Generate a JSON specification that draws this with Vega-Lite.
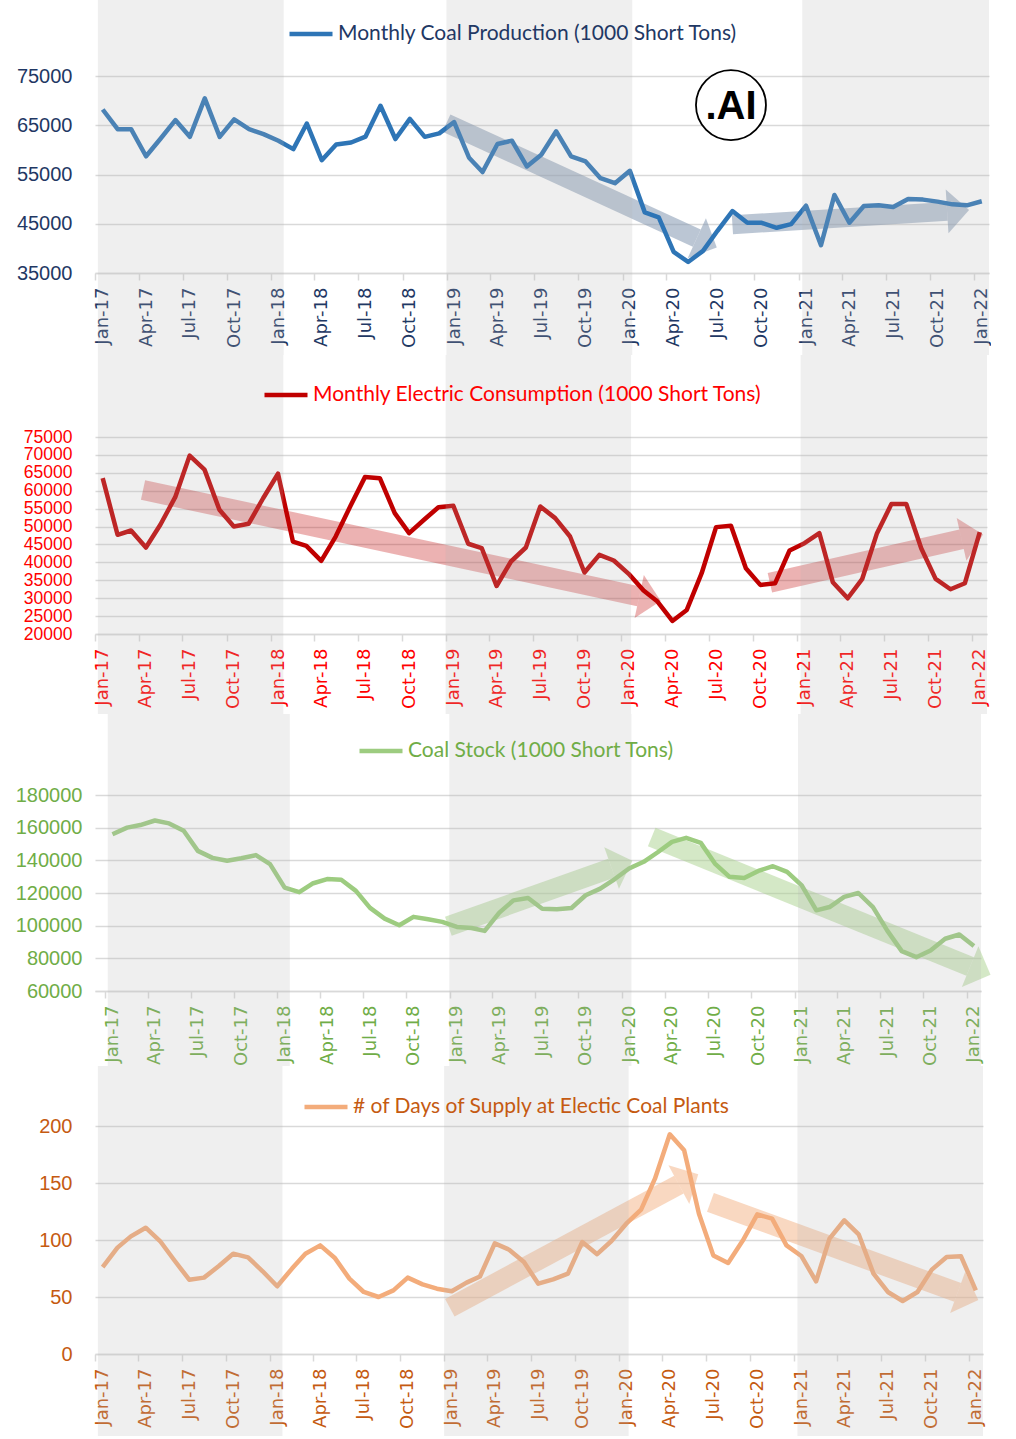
{
  "$schema": "https://vega.github.io/schema/vega-lite/v6.json",
  "background": "white",
  "padding": 0,
  "spacing": 0,
  "columns": 1,
  "align": "none",
  "resolve": {"scale": {"color": "independent"}, "legend": {"color": "independent"}},
  "config": {
    "view": {"stroke": null},
    "axisX": {"labelAngle": -90, "labelFont": "DejaVu Sans", "labelFontSize": 18, "labelPadding": 7, "labelOverlap": false, "labelFlush": false, "labelBound": false, "tickSize": 7, "tickColor": "#D9D9D9", "tickWidth": 1.5, "domainColor": "#D9D9D9", "domainWidth": 1.5, "grid": false},
    "axisY": {"labelFont": "Liberation Sans", "labelFontSize": 20, "labelPadding": 23, "ticks": false, "domain": false, "grid": true, "gridColor": "#D9D9D9", "gridWidth": 1.5, "labelOverlap": false}
  },
  "datasets": {
    "series": [
      {"date": "2017-01-01", "prod": 68200, "cons": 63500, "stock": 156000, "days": 76.3},
      {"date": "2017-02-01", "prod": 64200, "cons": 47700, "stock": 160000, "days": 93.3},
      {"date": "2017-03-01", "prod": 64200, "cons": 48900, "stock": 161600, "days": 103.2},
      {"date": "2017-04-01", "prod": 58700, "cons": 44150, "stock": 164400, "days": 110.8},
      {"date": "2017-05-01", "prod": 62250, "cons": 50500, "stock": 162600, "days": 99.1},
      {"date": "2017-06-01", "prod": 66050, "cons": 58200, "stock": 158100, "days": 81.6},
      {"date": "2017-07-01", "prod": 62650, "cons": 69800, "stock": 145800, "days": 65.2},
      {"date": "2017-08-01", "prod": 70450, "cons": 65900, "stock": 141500, "days": 67.0},
      {"date": "2017-09-01", "prod": 62650, "cons": 54700, "stock": 139700, "days": 77.2},
      {"date": "2017-10-01", "prod": 66200, "cons": 50000, "stock": 141300, "days": 88.0},
      {"date": "2017-11-01", "prod": 64200, "cons": 50800, "stock": 143200, "days": 84.8},
      {"date": "2017-12-01", "prod": 63200, "cons": 57900, "stock": 137700, "days": 72.8},
      {"date": "2018-01-01", "prod": 61850, "cons": 64750, "stock": 123300, "days": 59.4},
      {"date": "2018-02-01", "prod": 60150, "cons": 45800, "stock": 120500, "days": 74.9},
      {"date": "2018-03-01", "prod": 65350, "cons": 44600, "stock": 125800, "days": 88.0},
      {"date": "2018-04-01", "prod": 57900, "cons": 40400, "stock": 128500, "days": 95.3},
      {"date": "2018-05-01", "prod": 61100, "cons": 47200, "stock": 128100, "days": 84.5},
      {"date": "2018-06-01", "prod": 61500, "cons": 55800, "stock": 121300, "days": 66.1},
      {"date": "2018-07-01", "prod": 62700, "cons": 63800, "stock": 110900, "days": 54.4},
      {"date": "2018-08-01", "prod": 68950, "cons": 63500, "stock": 104300, "days": 50.0},
      {"date": "2018-09-01", "prod": 62200, "cons": 53750, "stock": 100250, "days": 55.8},
      {"date": "2018-10-01", "prod": 66300, "cons": 48150, "stock": 105400, "days": 67.0},
      {"date": "2018-11-01", "prod": 62650, "cons": 51900, "stock": 103900, "days": 61.1},
      {"date": "2018-12-01", "prod": 63350, "cons": 55400, "stock": 102300, "days": 57.3},
      {"date": "2019-01-01", "prod": 65650, "cons": 55800, "stock": 99200, "days": 55.0},
      {"date": "2019-02-01", "prod": 58400, "cons": 45200, "stock": 98600, "days": 62.6},
      {"date": "2019-03-01", "prod": 55500, "cons": 44000, "stock": 96800, "days": 68.0},
      {"date": "2019-04-01", "prod": 61200, "cons": 33400, "stock": 108000, "days": 97.0},
      {"date": "2019-05-01", "prod": 61870, "cons": 40240, "stock": 115500, "days": 91.5},
      {"date": "2019-06-01", "prod": 56630, "cons": 44150, "stock": 116950, "days": 80.7},
      {"date": "2019-07-01", "prod": 59010, "cons": 55610, "stock": 110400, "days": 61.7},
      {"date": "2019-08-01", "prod": 63770, "cons": 52350, "stock": 110000, "days": 65.5},
      {"date": "2019-09-01", "prod": 58670, "cons": 47230, "stock": 110800, "days": 70.5},
      {"date": "2019-10-01", "prod": 57650, "cons": 37160, "stock": 118600, "days": 98.2},
      {"date": "2019-11-01", "prod": 54250, "cons": 42100, "stock": 122700, "days": 87.6},
      {"date": "2019-12-01", "prod": 53230, "cons": 40520, "stock": 128400, "days": 99.1},
      {"date": "2020-01-01", "prod": 55750, "cons": 36790, "stock": 135000, "days": 114.3},
      {"date": "2020-02-01", "prod": 47310, "cons": 32130, "stock": 139100, "days": 126.6},
      {"date": "2020-03-01", "prod": 46290, "cons": 29050, "stock": 144800, "days": 153.8},
      {"date": "2020-04-01", "prod": 39280, "cons": 23650, "stock": 151300, "days": 192.7},
      {"date": "2020-05-01", "prod": 37240, "cons": 26720, "stock": 153800, "days": 178.7},
      {"date": "2020-06-01", "prod": 39490, "cons": 36970, "stock": 150700, "days": 123.1},
      {"date": "2020-07-01", "prod": 43570, "cons": 49840, "stock": 138000, "days": 86.5},
      {"date": "2020-08-01", "prod": 47580, "cons": 50210, "stock": 129900, "days": 79.8},
      {"date": "2020-09-01", "prod": 45200, "cons": 38370, "stock": 129200, "days": 99.7},
      {"date": "2020-10-01", "prod": 45200, "cons": 33710, "stock": 133500, "days": 122.5},
      {"date": "2020-11-01", "prod": 44180, "cons": 34180, "stock": 136400, "days": 118.7},
      {"date": "2020-12-01", "prod": 44930, "cons": 43310, "stock": 132900, "days": 95.3},
      {"date": "2021-01-01", "prod": 48670, "cons": 45360, "stock": 124700, "days": 86.0},
      {"date": "2021-02-01", "prod": 40640, "cons": 48160, "stock": 109400, "days": 63.7},
      {"date": "2021-03-01", "prod": 50850, "cons": 34460, "stock": 111400, "days": 101.2},
      {"date": "2021-04-01", "prod": 45200, "cons": 29980, "stock": 117600, "days": 117.3},
      {"date": "2021-05-01", "prod": 48600, "cons": 35300, "stock": 120000, "days": 105.0},
      {"date": "2021-06-01", "prod": 48740, "cons": 48160, "stock": 111400, "days": 70.5},
      {"date": "2021-07-01", "prod": 48400, "cons": 56270, "stock": 97100, "days": 54.4},
      {"date": "2021-08-01", "prod": 50030, "cons": 56270, "stock": 84400, "days": 46.5},
      {"date": "2021-09-01", "prod": 49900, "cons": 43960, "stock": 80700, "days": 54.4},
      {"date": "2021-10-01", "prod": 49490, "cons": 35390, "stock": 84800, "days": 74.0},
      {"date": "2021-11-01", "prod": 48940, "cons": 32500, "stock": 92000, "days": 85.1},
      {"date": "2021-12-01", "prod": 48740, "cons": 34180, "stock": 94600, "days": 85.7},
      {"date": "2022-01-01", "prod": 49560, "cons": 48440, "stock": 87500, "days": 55.8}
    ],
    "bands": [
      {"s": "2016-12-22", "e": "2018-01-12"},
      {"s": "2018-12-16", "e": "2020-01-06"},
      {"s": "2020-12-24", "e": "2022-01-16"}
    ],
    "arrows": [
      {"p": 1, "id": "A", "x1": "2018-12-16", "v1": 65450, "x2": "2020-05-19", "v2": 42060},
      {"p": 1, "id": "B", "x1": "2020-08-01", "v1": 44800, "x2": "2021-10-21", "v2": 47510},
      {"p": 2, "id": "C", "x1": "2017-03-26", "v1": 60180, "x2": "2020-01-23", "v2": 30480},
      {"p": 2, "id": "D", "x1": "2020-10-21", "v1": 34320, "x2": "2021-11-24", "v2": 46420},
      {"p": 3, "id": "E", "x1": "2018-12-14", "v1": 99670, "x2": "2019-11-25", "v2": 135240},
      {"p": 3, "id": "F", "x1": "2020-02-18", "v1": 154250, "x2": "2021-12-24", "v2": 74960},
      {"p": 4, "id": "G", "x1": "2018-12-28", "v1": 40.6, "x2": "2020-04-20", "v2": 148.6},
      {"p": 4, "id": "H", "x1": "2020-06-25", "v1": 133, "x2": "2021-11-24", "v2": 54}
    ],
    "logo": [{"date": "2020-07-29", "v": 69100, "label": ".AI"}]
  },
  "concat": [
    {
      "width": 894, "height": 197,
      "layer": [
        {
          "data": {"name": "arrows"},
          "transform": [{"filter": "datum.p == 1"}],
          "mark": {"type": "rule", "color": "#8497B0", "opacity": 0.55, "strokeWidth": 19, "strokeCap": "butt"},
          "encoding": {"x": {"field": "x1", "type": "temporal", "title": null}, "x2": {"field": "x2"}, "y": {"field": "v1", "type": "quantitative", "title": null}, "y2": {"field": "v2"}}
        },
        {
          "data": {"name": "arrows"},
          "transform": [{"filter": "datum.id == 'A'"}],
          "mark": {"type": "point", "shape": "M0,-1L1,0L0,1Z", "size": 1936, "angle": 24.6, "filled": true, "color": "#8497B0", "opacity": 0.55, "strokeWidth": 0},
          "encoding": {"x": {"field": "x2", "type": "temporal", "title": null}, "y": {"field": "v2", "type": "quantitative", "title": null}}
        },
        {
          "data": {"name": "arrows"},
          "transform": [{"filter": "datum.id == 'B'"}],
          "mark": {"type": "point", "shape": "M0,-1L1,0L0,1Z", "size": 1936, "angle": -3.6, "filled": true, "color": "#8497B0", "opacity": 0.55, "strokeWidth": 0},
          "encoding": {"x": {"field": "x2", "type": "temporal", "title": null}, "y": {"field": "v2", "type": "quantitative", "title": null}}
        },
        {
          "data": {"name": "series"},
          "mark": {"type": "line", "strokeWidth": 4.5, "strokeJoin": "round"},
          "encoding": {
            "x": {"field": "date", "type": "temporal", "title": null,
              "scale": {"type": "utc", "domain": [{"year": 2016, "month": 12, "date": 16, "utc": true}, {"year": 2022, "month": 1, "date": 16, "utc": true}], "nice": false},
              "axis": {"tickCount": {"interval": "month", "step": 3}, "format": "%b-%y", "labelColor": "#1F3864", "tickOffset": -7.3, "labelOffset": 7.3}},
            "y": {"field": "prod", "type": "quantitative", "title": null,
              "scale": {"domain": [35000, 75000], "nice": false, "zero": false},
              "axis": {"values": [35000, 45000, 55000, 65000, 75000], "tickCount": 20, "format": "d", "labelColor": "#1F3864", "minExtent": 95, "maxExtent": 95}},
            "color": {"datum": "Monthly Coal Production (1000 Short Tons)", "scale": {"range": ["#2E75B6"]},
              "legend": {"orient": "none", "legendX": 192, "legendY": -66, "title": null, "padding": 0, "labelFont": "Lato", "labelFontSize": 21, "labelColor": "#1F3864", "labelLimit": 800, "labelOffset": 3, "symbolType": "stroke", "symbolStrokeWidth": 4.5, "symbolSize": 1849}}
          }
        },
        {
          "data": {"name": "logo"},
          "mark": {"type": "point", "shape": "circle", "size": 4900, "filled": true, "fill": "white", "stroke": "black", "strokeWidth": 1.8, "opacity": 1},
          "encoding": {"x": {"field": "date", "type": "temporal", "title": null}, "y": {"field": "v", "type": "quantitative", "title": null}}
        },
        {
          "data": {"name": "logo"},
          "mark": {"type": "text", "font": "Liberation Sans", "fontWeight": "bold", "fontSize": 40, "color": "black", "align": "center", "baseline": "middle", "dy": 2},
          "encoding": {"x": {"field": "date", "type": "temporal", "title": null}, "y": {"field": "v", "type": "quantitative", "title": null}, "text": {"field": "label"}}
        },
        {
          "data": {"name": "bands"},
          "mark": {"type": "rect", "color": "#B4B4B4", "opacity": 0.21, "yOffset": -76, "y2Offset": 82},
          "encoding": {"x": {"field": "s", "type": "temporal", "title": null}, "x2": {"field": "e"}, "y": {"value": 0}, "y2": {"value": "height"}}
        }
      ]
    },
    {
      "width": 892, "height": 197,
      "layer": [
        {
          "data": {"name": "arrows"},
          "transform": [{"filter": "datum.p == 2"}],
          "mark": {"type": "rule", "color": "#C00000", "opacity": 0.3, "strokeWidth": 20, "strokeCap": "butt"},
          "encoding": {"x": {"field": "x1", "type": "temporal", "title": null}, "x2": {"field": "x2"}, "y": {"field": "v1", "type": "quantitative", "title": null}, "y2": {"field": "v2"}}
        },
        {
          "data": {"name": "arrows"},
          "transform": [{"filter": "datum.id == 'C'"}],
          "mark": {"type": "point", "shape": "M0,-1L1,0L0,1Z", "size": 1936, "angle": 12.1, "filled": true, "color": "#C00000", "opacity": 0.3, "strokeWidth": 0},
          "encoding": {"x": {"field": "x2", "type": "temporal", "title": null}, "y": {"field": "v2", "type": "quantitative", "title": null}}
        },
        {
          "data": {"name": "arrows"},
          "transform": [{"filter": "datum.id == 'D'"}],
          "mark": {"type": "point", "shape": "M0,-1L1,0L0,1Z", "size": 1936, "angle": -12.7, "filled": true, "color": "#C00000", "opacity": 0.3, "strokeWidth": 0},
          "encoding": {"x": {"field": "x2", "type": "temporal", "title": null}, "y": {"field": "v2", "type": "quantitative", "title": null}}
        },
        {
          "data": {"name": "series"},
          "mark": {"type": "line", "strokeWidth": 4.5, "strokeJoin": "round"},
          "encoding": {
            "x": {"field": "date", "type": "temporal", "title": null,
              "scale": {"type": "utc", "domain": [{"year": 2016, "month": 12, "date": 16, "utc": true}, {"year": 2022, "month": 1, "date": 16, "utc": true}], "nice": false},
              "axis": {"tickCount": {"interval": "month", "step": 3}, "format": "%b-%y", "labelColor": "#FF0000", "tickOffset": -7.3, "labelOffset": 7.3}},
            "y": {"field": "cons", "type": "quantitative", "title": null,
              "scale": {"domain": [20000, 75000], "nice": false, "zero": false},
              "axis": {"values": [20000, 25000, 30000, 35000, 40000, 45000, 50000, 55000, 60000, 65000, 70000, 75000], "tickCount": 20, "format": "d", "labelColor": "#FF0000", "labelFontSize": 17.5, "labelPadding": 23, "minExtent": 95, "maxExtent": 95}},
            "color": {"datum": "Monthly Electric Consumption (1000 Short Tons)", "scale": {"range": ["#C00000"]},
              "legend": {"orient": "none", "legendX": 167, "legendY": -66, "title": null, "padding": 0, "labelFont": "Lato", "labelFontSize": 21, "labelColor": "#FF0000", "labelLimit": 800, "labelOffset": 3, "symbolType": "stroke", "symbolStrokeWidth": 4.5, "symbolSize": 1849}}
          }
        },
        {
          "data": {"name": "bands"},
          "mark": {"type": "rect", "color": "#B4B4B4", "opacity": 0.21, "yOffset": -82, "y2Offset": 80},
          "encoding": {"x": {"field": "s", "type": "temporal", "title": null}, "x2": {"field": "e"}, "y": {"value": 0}, "y2": {"value": "height"}}
        }
      ]
    },
    {
      "width": 886, "height": 196,
      "layer": [
        {
          "data": {"name": "arrows"},
          "transform": [{"filter": "datum.p == 3"}],
          "mark": {"type": "rule", "color": "#A9D18E", "opacity": 0.5, "strokeWidth": 20, "strokeCap": "butt"},
          "encoding": {"x": {"field": "x1", "type": "temporal", "title": null}, "x2": {"field": "x2"}, "y": {"field": "v1", "type": "quantitative", "title": null}, "y2": {"field": "v2"}}
        },
        {
          "data": {"name": "arrows"},
          "transform": [{"filter": "datum.id == 'E'"}],
          "mark": {"type": "point", "shape": "M0,-1L1,0L0,1Z", "size": 1936, "angle": -19.5, "filled": true, "color": "#A9D18E", "opacity": 0.5, "strokeWidth": 0},
          "encoding": {"x": {"field": "x2", "type": "temporal", "title": null}, "y": {"field": "v2", "type": "quantitative", "title": null}}
        },
        {
          "data": {"name": "arrows"},
          "transform": [{"filter": "datum.id == 'F'"}],
          "mark": {"type": "point", "shape": "M0,-1L1,0L0,1Z", "size": 1936, "angle": 22.1, "filled": true, "color": "#A9D18E", "opacity": 0.5, "strokeWidth": 0},
          "encoding": {"x": {"field": "x2", "type": "temporal", "title": null}, "y": {"field": "v2", "type": "quantitative", "title": null}}
        },
        {
          "data": {"name": "series"},
          "mark": {"type": "line", "strokeWidth": 4.5, "strokeJoin": "round"},
          "encoding": {
            "x": {"field": "date", "type": "temporal", "title": null,
              "scale": {"type": "utc", "domain": [{"year": 2016, "month": 11, "date": 25, "utc": true}, {"year": 2022, "month": 1, "date": 16, "utc": true}], "nice": false},
              "axis": {"tickCount": {"interval": "month", "step": 3}, "format": "%b-%y", "labelColor": "#70AD47", "tickOffset": -7.2, "labelOffset": 7.2}},
            "y": {"field": "stock", "type": "quantitative", "title": null,
              "scale": {"domain": [60000, 180000], "nice": false, "zero": false},
              "axis": {"values": [60000, 80000, 100000, 120000, 140000, 160000, 180000], "tickCount": 20, "format": "d", "labelColor": "#70AD47", "labelPadding": 13, "minExtent": 95, "maxExtent": 95}},
            "color": {"datum": "Coal Stock (1000 Short Tons)", "scale": {"range": ["#9DCC80"]},
              "legend": {"orient": "none", "legendX": 262, "legendY": -68, "title": null, "padding": 0, "labelFont": "Lato", "labelFontSize": 21, "labelColor": "#70AD47", "labelLimit": 800, "labelOffset": 3, "symbolType": "stroke", "symbolStrokeWidth": 4.5, "symbolSize": 1849}}
          }
        },
        {
          "data": {"name": "bands"},
          "mark": {"type": "rect", "color": "#B4B4B4", "opacity": 0.21, "yOffset": -81, "y2Offset": 75},
          "encoding": {"x": {"field": "s", "type": "temporal", "title": null}, "x2": {"field": "e"}, "y": {"value": 0}, "y2": {"value": "height"}}
        }
      ]
    },
    {
      "width": 888, "height": 228,
      "layer": [
        {
          "data": {"name": "arrows"},
          "transform": [{"filter": "datum.p == 4"}],
          "mark": {"type": "rule", "color": "#F4B183", "opacity": 0.5, "strokeWidth": 20, "strokeCap": "butt"},
          "encoding": {"x": {"field": "x1", "type": "temporal", "title": null}, "x2": {"field": "x2"}, "y": {"field": "v1", "type": "quantitative", "title": null}, "y2": {"field": "v2"}}
        },
        {
          "data": {"name": "arrows"},
          "transform": [{"filter": "datum.id == 'G'"}],
          "mark": {"type": "point", "shape": "M0,-1L1,0L0,1Z", "size": 1936, "angle": -28.3, "filled": true, "color": "#F4B183", "opacity": 0.5, "strokeWidth": 0},
          "encoding": {"x": {"field": "x2", "type": "temporal", "title": null}, "y": {"field": "v2", "type": "quantitative", "title": null}}
        },
        {
          "data": {"name": "arrows"},
          "transform": [{"filter": "datum.id == 'H'"}],
          "mark": {"type": "point", "shape": "M0,-1L1,0L0,1Z", "size": 1936, "angle": 20.0, "filled": true, "color": "#F4B183", "opacity": 0.5, "strokeWidth": 0},
          "encoding": {"x": {"field": "x2", "type": "temporal", "title": null}, "y": {"field": "v2", "type": "quantitative", "title": null}}
        },
        {
          "data": {"name": "series"},
          "mark": {"type": "line", "strokeWidth": 4.5, "strokeJoin": "round"},
          "encoding": {
            "x": {"field": "date", "type": "temporal", "title": null,
              "scale": {"type": "utc", "domain": [{"year": 2016, "month": 12, "date": 16, "utc": true}, {"year": 2022, "month": 1, "date": 16, "utc": true}], "nice": false},
              "axis": {"tickCount": {"interval": "month", "step": 3}, "format": "%b-%y", "labelColor": "#C55A11", "tickOffset": -7.3, "labelOffset": 7.3}},
            "y": {"field": "days", "type": "quantitative", "title": null,
              "scale": {"domain": [0, 200], "nice": false},
              "axis": {"values": [0, 50, 100, 150, 200], "tickCount": 20, "format": "d", "labelColor": "#C55A11", "minExtent": 95, "maxExtent": 95}},
            "color": {"datum": "# of Days of Supply at Electic Coal Plants", "scale": {"range": ["#F3AC7B"]},
              "legend": {"orient": "none", "legendX": 207, "legendY": -43, "title": null, "padding": 0, "labelFont": "Lato", "labelFontSize": 21, "labelColor": "#C55A11", "labelLimit": 800, "labelOffset": 3, "symbolType": "stroke", "symbolStrokeWidth": 4.5, "symbolSize": 1849}}
          }
        },
        {
          "data": {"name": "bands"},
          "mark": {"type": "rect", "color": "#B4B4B4", "opacity": 0.21, "yOffset": -60, "y2Offset": 82},
          "encoding": {"x": {"field": "s", "type": "temporal", "title": null}, "x2": {"field": "e"}, "y": {"value": 0}, "y2": {"value": "height"}}
        }
      ]
    }
  ]
}
